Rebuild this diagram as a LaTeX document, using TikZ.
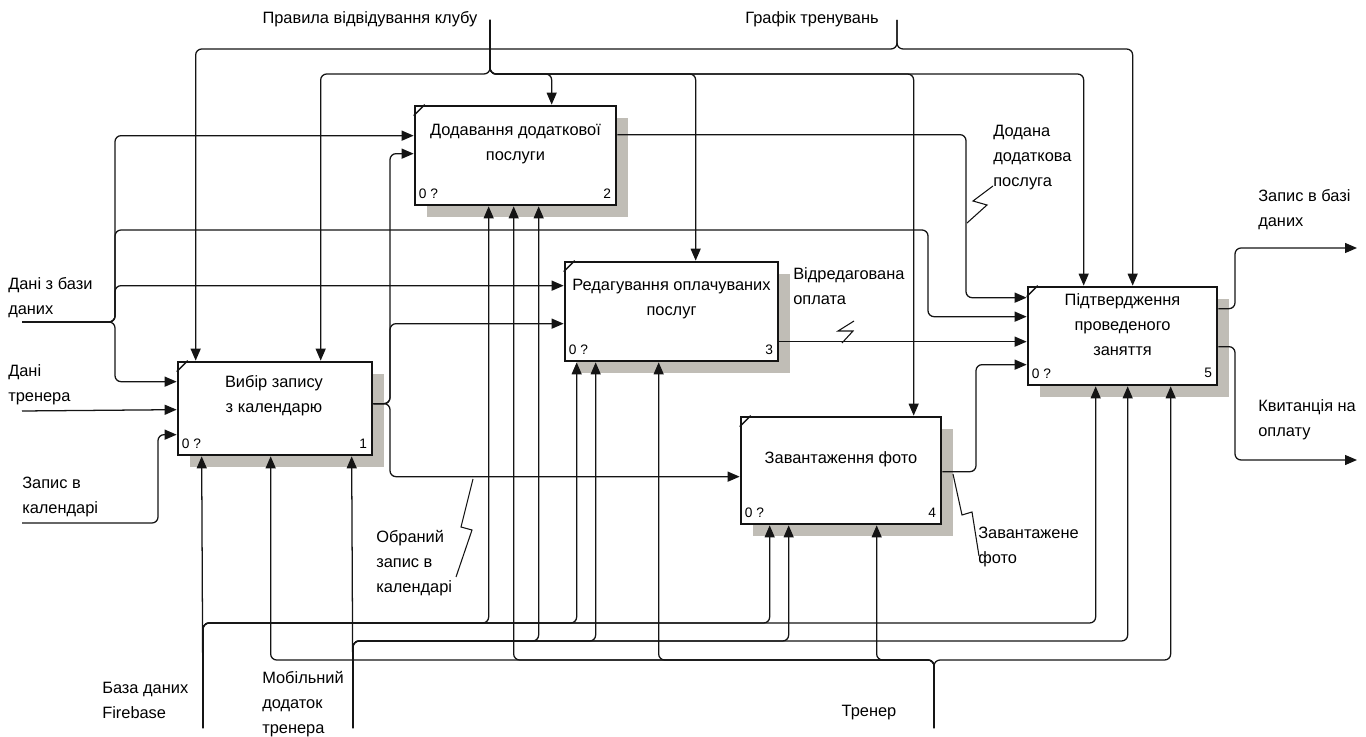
\documentclass[tikz,border=0pt]{standalone}
\usepackage{fontspec}
\setmainfont{Liberation Sans}
\usetikzlibrary{arrows.meta,calc,fit,shadows}
\definecolor{shade}{RGB}{192,189,182}
\definecolor{ink}{RGB}{20,20,20}
\begin{document}
\begin{tikzpicture}[x=0.75pt,y=-0.75pt,
  font=\fontsize{12.3pt}{18.75pt}\selectfont,
  box/.style={draw=ink, line width=2pt, fill=white, inner sep=0pt,
    drop shadow={shadow xshift=9pt, shadow yshift=-9pt, fill=shade, opacity=1}},
  title/.style={align=center, inner sep=0pt},
  lbl/.style={align=left, inner sep=0pt, anchor=west},
  corner/.style={inner sep=0pt, font=\fontsize{10.3pt}{12pt}\selectfont},
  conn/.style={draw=ink, line width=0.95pt, rounded corners=4.5pt},
  arr/.style={conn, -{Triangle[length=9pt,width=7.5pt]}},
  zig/.style={draw=ink, line width=0.8pt}]
\useasboundingbox (0,0) rectangle (1366,737);

% activity boxes
\node[box, fit={(178,362)(372,455)}] (b1) {};
\node[box, fit={(415,106)(616,205)}] (b2) {};
\node[box, fit={(565,262)(778,361)}] (b3) {};
\node[box, fit={(741,417)(941,524)}] (b4) {};
\node[box, fit={(1028,287)(1217,385)}] (b5) {};

\node[title] (t1) at ($(b1.center)+(-1,-13)$) {Вибір запису\\з календарю};
\node[title] (t2) at ($(b2.center)+(0,-11)$) {Додавання додаткової\\послуги};
\node[title] (t3) at ($(b3.center)+(0,-12)$) {Редагування оплачуваних\\послуг};
\node[title] (t4) at ($(b4.center)+(0,-11)$) {Завантаження фото};
\node[title] (t5) at ($(b5.center)+(0,-11)$) {Підтвердження\\проведеного\\заняття};

\foreach \b/\n in {b1/1,b2/2,b3/3,b4/4,b5/5}{
  \draw[ink, line width=1.1pt] ($(\b.north west)+(0,11)$) -- ($(\b.north west)+(11,0)$);
  \node[corner, anchor=west] at ($(\b.south west)+(5,-13)$) {0 ?};
  \node[corner, anchor=east] at ($(\b.south east)+(-6,-13)$) {\n};
}

% connection points on the boxes
\coordinate (b1t1) at ($(b1.north west)+(19,0)$);
\coordinate (b1t2) at ($(b1.north west)+(144,0)$);
\coordinate (b1w1) at ($(b1.north west)+(0,21)$);
\coordinate (b1w2) at ($(b1.north west)+(0,49)$);
\coordinate (b1w3) at ($(b1.north west)+(0,74)$);
\coordinate (b1b1) at ($(b1.south west)+(25,0)$);
\coordinate (b1b2) at ($(b1.south west)+(94,0)$);
\coordinate (b1b3) at ($(b1.south west)+(175,0)$);
\coordinate (b1e)  at ($(b1.north east)+(0,43)$);

\coordinate (b2t)  at ($(b2.north west)+(138,0)$);
\coordinate (b2w1) at ($(b2.north west)+(0,31)$);
\coordinate (b2w2) at ($(b2.north west)+(0,49)$);
\coordinate (b2b1) at ($(b2.south west)+(75,0)$);
\coordinate (b2b2) at ($(b2.south west)+(100,0)$);
\coordinate (b2b3) at ($(b2.south west)+(125,0)$);
\coordinate (b2e)  at ($(b2.north east)+(0,30)$);

\coordinate (b3t)  at ($(b3.north west)+(132,0)$);
\coordinate (b3w1) at ($(b3.north west)+(0,25)$);
\coordinate (b3w2) at ($(b3.north west)+(0,63)$);
\coordinate (b3b1) at ($(b3.south west)+(13,0)$);
\coordinate (b3b2) at ($(b3.south west)+(32,0)$);
\coordinate (b3b3) at ($(b3.south west)+(95,0)$);
\coordinate (b3e)  at ($(b3.north east)+(0,81)$);

\coordinate (b4t)  at ($(b4.north west)+(174,0)$);
\coordinate (b4w)  at ($(b4.north west)+(0,61)$);
\coordinate (b4b1) at ($(b4.south west)+(30,0)$);
\coordinate (b4b2) at ($(b4.south west)+(49,0)$);
\coordinate (b4b3) at ($(b4.south west)+(137,0)$);
\coordinate (b4e)  at ($(b4.north east)+(0,56)$);

\coordinate (b5t1) at ($(b5.north west)+(57,0)$);
\coordinate (b5t2) at ($(b5.north west)+(106,0)$);
\coordinate (b5w1) at ($(b5.north west)+(0,12)$);
\coordinate (b5w2) at ($(b5.north west)+(0,31)$);
\coordinate (b5w3) at ($(b5.north west)+(0,56)$);
\coordinate (b5w4) at ($(b5.north west)+(0,79)$);
\coordinate (b5b1) at ($(b5.south west)+(69,0)$);
\coordinate (b5b2) at ($(b5.south west)+(101,0)$);
\coordinate (b5b3) at ($(b5.south west)+(144,0)$);
\coordinate (b5e1) at ($(b5.north east)+(0,23)$);
\coordinate (b5e2) at ($(b5.north east)+(0,61)$);

% free ends and bus lines
\coordinate (Ptop) at (490,20);
\coordinate (Pbus) at (0,74);
\coordinate (Gtop) at (897,20);
\coordinate (Gbus) at (0,49);
\coordinate (Din) at (22,322);
\coordinate (Dx) at (115,0);
\coordinate (Dturn) at (928,230);
\coordinate (Tin) at (22,411);
\coordinate (Zin) at (22,523);
\coordinate (Zx) at (158,0);
\coordinate (Ox) at (390,0);
\coordinate (B2x) at (966,0);
\coordinate (B4x) at (976,0);
\coordinate (Rx) at (1235,0);
\coordinate (O1) at (1357,248);
\coordinate (O2) at (1357,460);
\coordinate (Fin) at (203,728);
\coordinate (Fbus) at (0,623);
\coordinate (Min) at (353,728);
\coordinate (Mbus) at (0,641);
\coordinate (Trin) at (934,728);
\coordinate (Tbus) at (0,660);

% controls
\draw[arr] (Ptop) |- (b1t2 |- Pbus) -- (b1t2);
\draw[arr] (Ptop) |- (b2t |- Pbus) -- (b2t);
\draw[arr] (Ptop) |- (b3t |- Pbus) -- (b3t);
\draw[arr] (Ptop) |- (b4t |- Pbus) -- (b4t);
\draw[arr] (Ptop) |- (b5t1 |- Pbus) -- (b5t1);
\draw[arr] (Gtop) |- (b1t1 |- Gbus) -- (b1t1);
\draw[arr] (Gtop) |- (b5t2 |- Gbus) -- (b5t2);

% inputs
\draw[arr] (Din) -| (Dx |- b2w1) -- (b2w1);
\draw[arr] (Din) -| (Dx |- b3w1) -- (b3w1);
\draw[arr] (Din) -| (Dx |- b1w1) -- (b1w1);
\draw[arr] (Din) -| (Dx |- Dturn) -- (Dturn) |- (b5w2);
\draw[arr] (Tin) -- (b1w2);
\draw[arr] (Zin) -| (Zx |- b1w3) -- (b1w3);

% flows between activities
\draw[arr] (b1e) -| (Ox |- b2w2) -- (b2w2);
\draw[arr] (b1e) -| (Ox |- b3w2) -- (b3w2);
\draw[arr] (b1e) -| (Ox |- b4w) -- (b4w);
\draw[arr] (b2e) -| (B2x |- b5w1) -- (b5w1);
\draw[arr] (b3e) -- (b5w3);
\draw[arr] (b4e) -| (B4x |- b5w4) -- (b5w4);

% outputs
\draw[arr] (b5e1) -| (Rx |- O1) -- (O1);
\draw[arr] (b5e2) -| (Rx |- O2) -- (O2);

% mechanisms
\draw[arr] (Fin) -- (b1b1);
\draw[arr] (Fin) |- (b2b1 |- Fbus) -- (b2b1);
\draw[arr] (Fin) |- (b3b1 |- Fbus) -- (b3b1);
\draw[arr] (Fin) |- (b4b1 |- Fbus) -- (b4b1);
\draw[arr] (Fin) |- (b5b1 |- Fbus) -- (b5b1);
\draw[arr] (Min) -- (b1b3);
\draw[arr] (Min) |- (b2b3 |- Mbus) -- (b2b3);
\draw[arr] (Min) |- (b3b2 |- Mbus) -- (b3b2);
\draw[arr] (Min) |- (b4b2 |- Mbus) -- (b4b2);
\draw[arr] (Min) |- (b5b2 |- Mbus) -- (b5b2);
\draw[arr] (Trin) |- (b1b2 |- Tbus) -- (b1b2);
\draw[arr] (Trin) |- (b2b2 |- Tbus) -- (b2b2);
\draw[arr] (Trin) |- (b3b3 |- Tbus) -- (b3b3);
\draw[arr] (Trin) |- (b4b3 |- Tbus) -- (b4b3);
\draw[arr] (Trin) |- (b5b3 |- Tbus) -- (b5b3);

% labels
\node[title] (lP) at (370,19) {Правила відвідування клубу};
\node[title] (lG) at (812,19) {Графік тренувань};
\node[lbl] (lD) at (8,298) {Дані з бази\\даних};
\node[lbl] (lT) at (8,385) {Дані\\тренера};
\node[lbl] (lZ) at (22,497) {Запис в\\календарі};
\node[lbl] (lF) at (102,700) {База даних\\Firebase};
\node[lbl] (lM) at (262,704) {Мобільний\\додаток\\тренера};
\node[title] (lTr) at (869,713) {Тренер};
\node[lbl] (lO) at (376,563) {Обраний\\запис в\\календарі};
\node[lbl] (lV) at (793,286) {Відредагована\\оплата};
\node[lbl] (lA) at (993,158) {Додана\\додаткова\\послуга};
\node[lbl] (lU) at (978,547) {Завантажене\\фото};
\node[lbl] (lR1) at (1258,210) {Запис в базі\\даних};
\node[lbl] (lR2) at (1258,420) {Квитанція на\\оплату};

% squiggles tying labels to their arrows
\draw[zig] (473,479) -- (461,527) -- (472,530) -- (456,577);
\draw[zig] (854,321) -- (838,331) -- (853,331) -- (842,343);
\draw[zig] (993,186) -- (973,201) -- (987,205) -- (967,223);
\draw[zig] (953,474) -- (962,515) -- (972,512) -- (979,556);
\end{tikzpicture}
\end{document}
